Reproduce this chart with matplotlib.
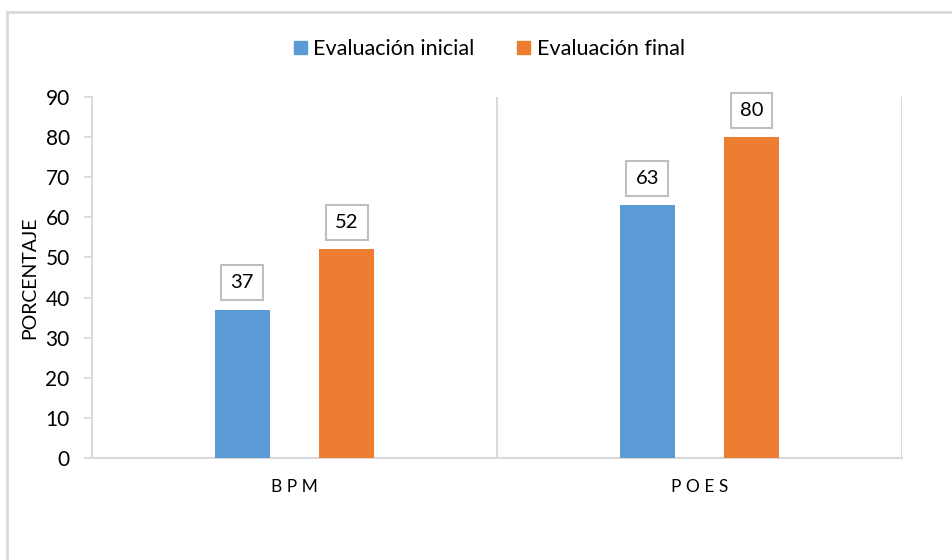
import numpy as np
import matplotlib.pyplot as plt
from matplotlib.patches import Rectangle, Patch

plt.rcParams['font.family'] = ['Lato', 'DejaVu Sans']

categorias = ['B P M', 'P O E S']
inicial = [37, 63]
final = [52, 80]
series = ['Evaluación inicial', 'Evaluación final']
colores = ['#5B9BD5', '#ED7D31']
gris = '#D9D9D9'

fig = plt.figure(figsize=(9.52, 5.6), dpi=100)
ax = fig.add_axes([0.0966, 0.1821, 0.8508, 0.6446])

# marco exterior del gráfico
fig.patches.append(Rectangle((7/952, -0.1), 1.2, 1 - 12/560 + 0.1,
                             transform=fig.transFigure, fill=False,
                             edgecolor=gris, linewidth=2))

x = np.arange(len(categorias))
ancho = 0.136
desp = 0.129

for vals, off, col in [(inicial, -desp, colores[0]), (final, desp, colores[1])]:
    barras = ax.bar(x + off, vals, width=ancho, color=col, zorder=3)
    for b, v in zip(barras, vals):
        ax.annotate(str(v), (b.get_x() + b.get_width() / 2, v),
                    xytext=(0, 19.5), textcoords='offset points',
                    ha='center', va='center', fontsize=14.5,
                    bbox=dict(boxstyle='square,pad=0.45', fc='white',
                              ec='#BFBFBF', lw=1.5))

ax.set_xlim(-0.5, 1.5)
ax.set_ylim(0, 90)
ax.set_yticks(np.arange(0, 91, 10))
ax.set_xticks(x)
ax.set_xticklabels(categorias, fontsize=12.5)
ax.tick_params(axis='y', length=6, color=gris, width=1.3, pad=10, labelsize=15)
ax.tick_params(axis='x', length=0, pad=15)

for s in ['top', 'right']:
    ax.spines[s].set_visible(False)
for s in ['left', 'bottom']:
    ax.spines[s].set_color(gris)
    ax.spines[s].set_linewidth(1.5)

# separadores entre categorías
for xv in [0.5, 1.5]:
    ax.axvline(xv, color=gris, lw=1.5, zorder=1)

ax.set_ylabel('PORCENTAJE', fontsize=14, labelpad=5)

handles = [Patch(color=c) for c in colores]
fig.legend(handles, series, loc='center', bbox_to_anchor=(0.514, 1 - 49/560),
           ncol=2, frameon=False, fontsize=15.5, handlelength=0.6,
           handleheight=0.6, handletextpad=0.3, columnspacing=2.0)

fig.savefig('out.png', dpi=100)
